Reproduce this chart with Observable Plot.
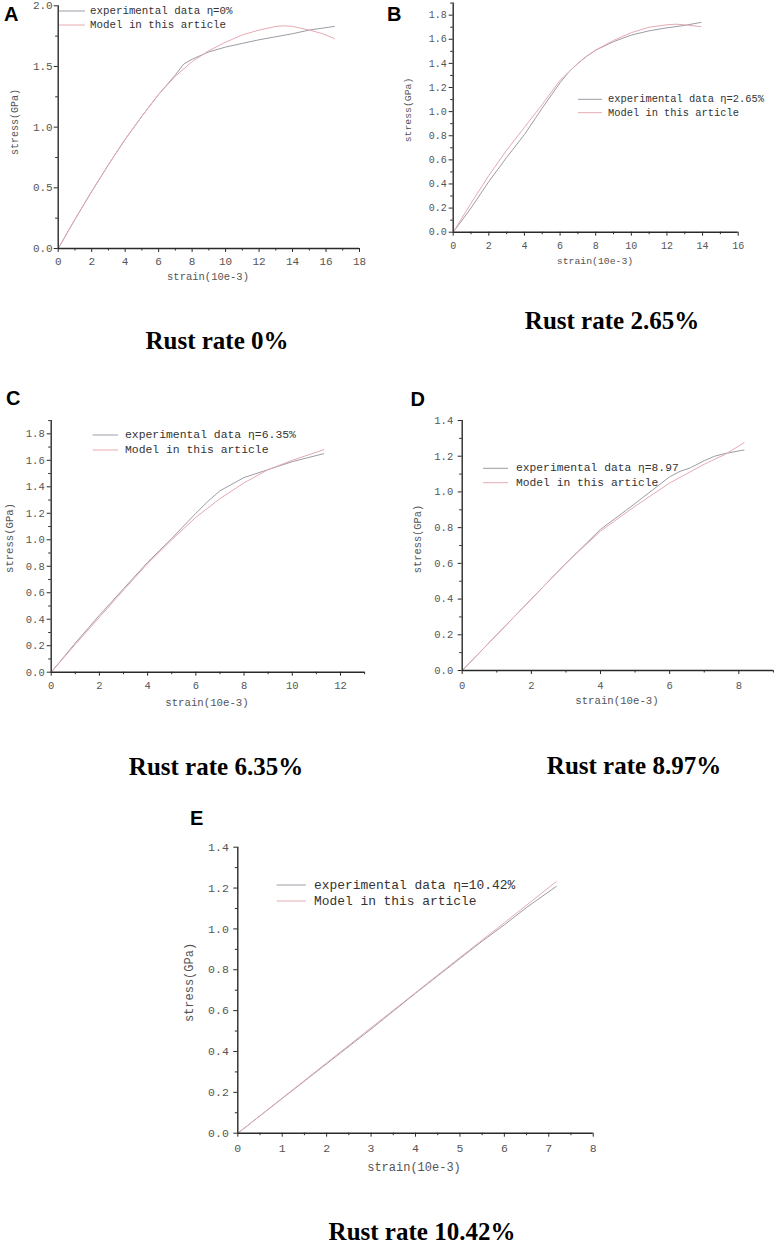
<!DOCTYPE html>
<html><head><meta charset="utf-8">
<script src="https://cdn.jsdelivr.net/npm/d3@7"></script>
<script src="https://cdn.jsdelivr.net/npm/@observablehq/plot@0.6"></script>
<style>
body{margin:0;background:#fff;}
#page{position:relative;width:775px;height:1246px;overflow:hidden;background:#fff;}
.panel{position:absolute;}
#overlay{position:absolute;left:0;top:0;pointer-events:none;}
</style></head><body><div id="page"></div>
<script>
// ---------- DATA ----------
// Panel A (rust rate 0%)
const expA_strain = [0, 1, 2, 3, 4, 5, 6, 7, 7.5, 8, 9, 10, 11, 12, 13, 14, 15, 16.5];
const expA_stress = [0, 0.24, 0.47, 0.69, 0.90, 1.09, 1.27, 1.43, 1.52, 1.56, 1.62, 1.66, 1.69, 1.72, 1.745, 1.77, 1.80, 1.83];
const modA_strain = [0, 1, 2, 3, 4, 5, 6, 7, 8, 9, 10, 11, 12, 13, 13.5, 14, 15, 15.8, 16.5];
const modA_stress = [0, 0.24, 0.47, 0.69, 0.90, 1.09, 1.27, 1.42, 1.54, 1.63, 1.70, 1.76, 1.80, 1.83, 1.835, 1.83, 1.80, 1.77, 1.73];
// Panel B (2.65%)
const expB_strain = [0, 1, 2, 3, 4, 5, 6, 6.5, 7, 7.5, 8, 9, 10, 11, 12, 13, 13.9];
const expB_stress = [0, 0.20, 0.42, 0.62, 0.81, 1.03, 1.24, 1.33, 1.40, 1.46, 1.51, 1.58, 1.635, 1.67, 1.695, 1.715, 1.74];
const modB_strain = [0, 1, 2, 3, 4, 5, 6, 6.5, 7, 7.5, 8, 9, 10, 11, 12, 12.5, 13, 13.9];
const modB_stress = [0, 0.24, 0.47, 0.68, 0.87, 1.06, 1.26, 1.33, 1.40, 1.46, 1.51, 1.59, 1.655, 1.70, 1.72, 1.725, 1.72, 1.705];
// Panel C (6.35%)
const expC_strain = [0, 1, 2, 3, 4, 5, 6, 6.5, 7, 7.5, 8, 9, 10, 11.3];
const expC_stress = [0, 0.22, 0.43, 0.63, 0.83, 1.01, 1.20, 1.29, 1.37, 1.42, 1.47, 1.53, 1.59, 1.65];
const modC_strain = [0, 1, 2, 3, 4, 5, 6, 7, 8, 9, 10, 11.3];
const modC_stress = [0, 0.21, 0.415, 0.62, 0.82, 1.00, 1.17, 1.31, 1.43, 1.53, 1.60, 1.68];
// Panel D (8.97%)
const expD_strain = [0, 1, 2, 3, 4, 5, 5.5, 6, 6.3, 6.6, 7, 7.3, 7.6, 8.15];
const expD_stress = [0, 0.20, 0.40, 0.60, 0.79, 0.935, 1.01, 1.085, 1.115, 1.135, 1.175, 1.20, 1.215, 1.235];
const modD_strain = [0, 1, 2, 3, 4, 5, 6, 7, 7.6, 8.15];
const modD_stress = [0, 0.20, 0.40, 0.60, 0.78, 0.92, 1.05, 1.155, 1.21, 1.275];
// Panel E (10.42%)
const expE_strain = [0, 1, 2, 3, 4, 5, 5.5, 6, 6.5, 7.17];
const expE_stress = [0, 0.17, 0.34, 0.51, 0.685, 0.855, 0.94, 1.02, 1.105, 1.208];
const modE_strain = [0, 1, 2, 3, 4, 5, 6, 7.17];
const modE_stress = [0, 0.172, 0.344, 0.516, 0.688, 0.86, 1.03, 1.232];

// Tick values
const ticksA_x = [0, 2, 4, 6, 8, 10, 12, 14, 16, 18];
const minorA_x = [1, 3, 5, 7, 9, 11, 13, 15, 17];
const ticksA_y = [0, 0.5, 1.0, 1.5, 2.0];
const minorA_y = [0.25, 0.75, 1.25, 1.75];
const ticksB_x = [0, 2, 4, 6, 8, 10, 12, 14, 16];
const minorB_x = [1, 3, 5, 7, 9, 11, 13, 15];
const ticks02_18 = [0, 0.2, 0.4, 0.6, 0.8, 1.0, 1.2, 1.4, 1.6, 1.8];
const minor01_19 = [0.1, 0.3, 0.5, 0.7, 0.9, 1.1, 1.3, 1.5, 1.7, 1.9];
const ticksC_x = [0, 2, 4, 6, 8, 10, 12];
const minorC_x = [1, 3, 5, 7, 9, 11, 13];
const ticksD_x = [0, 2, 4, 6, 8];
const minorD_x = [1, 3, 5, 7, 9];
const ticks02_14 = [0, 0.2, 0.4, 0.6, 0.8, 1.0, 1.2, 1.4];
const minor01_13 = [0.1, 0.3, 0.5, 0.7, 0.9, 1.1, 1.3];
const ticksE_x = [0, 1, 2, 3, 4, 5, 6, 7, 8];
const minorE_x = [0.5, 1.5, 2.5, 3.5, 4.5, 5.5, 6.5, 7.5];

// Texts
const panelLetters = ["A", "B", "C", "D", "E"];
const panelTitles = ["Rust rate 0%", "Rust rate 2.65%", "Rust rate 6.35%", "Rust rate 8.97%", "Rust rate 10.42%"];
const legendExp = ["experimental data η=0%", "experimental data η=2.65%", "experimental data η=6.35%", "experimental data η=8.97", "experimental data η=10.42%"];
const legendModel = "Model in this article";
const yLabel = "stress(GPa)";
const xLabel = "strain(10e-3)";

// ---------- STYLE / LAYOUT ----------
const GRAY = "#9d9ca6";
const PINK = "#e5aab3";
const AXIS = "#2a2a2a";
const TXT = "#555";
const MONO = "'Liberation Mono', 'DejaVu Sans Mono', monospace";

const panels = [
  {exp:[expA_strain, expA_stress], mod:[modA_strain, modA_stress], left:0, top:0, w:390, h:290, ml:57.7, mr:31, mt:5.3, mb:42,
   xd:[0,18], yd:[0,2], xt:ticksA_x, xm:minorA_x, yt:ticksA_y, ym:minorA_y, fs:11, xPad:5, yPad:1.5,
   letter:[4,21], title:[217,340], stress:[15,122,10], strain:[208,277,10.5], leg:[59,85,90,11,25,10.8]},
  {exp:[expB_strain, expB_stress], mod:[modB_strain, modB_stress], left:390, top:0, w:385, h:275, ml:62.7, mr:37.3, mt:2.6, mb:43.3,
   xd:[0,16], yd:[0,1.9], xt:ticksB_x, xm:minorB_x, yt:ticks02_18, ym:minor01_19, fs:10, xPad:5.5, yPad:2.5,
   letter:[387,21], title:[612,320], stress:[408,110,9.8], strain:[595,261,9.8], leg:[578,602,608,99.3,112.7,10.4]},
  {exp:[expC_strain, expC_stress], mod:[modC_strain, modC_stress], left:0, top:380, w:390, h:340, ml:50.7, mr:25.9, mt:40.1, mb:48.3,
   xd:[0,13], yd:[0,1.9], xt:ticksC_x, xm:minorC_x, yt:ticks02_18, ym:minor01_19, fs:10.5, xPad:5.5, yPad:2.5,
   letter:[6,404.5], title:[216,766], stress:[10,538,10.6], strain:[207,703,10.7], leg:[92.7,118,125,435,450,11.4]},
  {exp:[expD_strain, expD_stress], mod:[modD_strain, modD_stress], left:390, top:380, w:385, h:340, ml:71.7, mr:2.1, mt:40, mb:50,
   xd:[0,9], yd:[0,1.4], xt:ticksD_x, xm:minorD_x, yt:ticks02_14, ym:minor01_13, fs:10.5, xPad:7, yPad:5,
   letter:[410.5,405.7], title:[634,765], stress:[418,539,10.4], strain:[617,701,10.7], leg:[483,508,516,468.3,482.7,11.3]},
  {exp:[expE_strain, expE_stress], mod:[modE_strain, modE_stress], left:180, top:800, w:430, h:400, ml:57.3, mr:17.3, mt:46.7, mb:67.3,
   xd:[0,8], yd:[0,1.4], xt:ticksE_x, xm:minorE_x, yt:ticks02_14, ym:minor01_13, fs:11.5, xPad:7, yPad:5,
   letter:[190,824.5], title:[422,1231], stress:[190,982.5,12], strain:[414,1168,12], leg:[276.7,306,314,885,901,12.9]}
];

const page = document.getElementById("page");

panels.forEach((p) => {
  const exp = p.exp[0].map((x, i) => ({strain: x, stress: p.exp[1][i]}));
  const mod = p.mod[0].map((x, i) => ({strain: x, stress: p.mod[1][i]}));
  const chart = Plot.plot({
    width: p.w, height: p.h,
    marginLeft: p.ml, marginRight: p.mr, marginTop: p.mt, marginBottom: p.mb,
    x: {domain: p.xd, nice: false},
    y: {domain: p.yd, nice: false},
    style: {fontFamily: MONO, fontSize: p.fs + "px", color: TXT, background: "transparent", overflow: "visible"},
    marks: [
      Plot.line(exp, {x: "strain", y: "stress", stroke: GRAY, strokeWidth: 1}),
      Plot.line(mod, {x: "strain", y: "stress", stroke: PINK, strokeWidth: 1}),
      Plot.axisX(p.xm, {tickSize: 2.5, stroke: AXIS, fill: "none", label: null}),
      Plot.axisX(p.xt, {tickSize: 4, tickPadding: p.xPad, stroke: AXIS, fill: TXT, label: null, tickFormat: (d) => String(d)}),
      Plot.axisY(p.ym, {tickSize: 2.5, stroke: AXIS, fill: "none", label: null}),
      Plot.axisY(p.yt, {tickSize: 4, tickPadding: p.yPad, stroke: AXIS, fill: TXT, label: null, tickFormat: (d) => d.toFixed(1)}),
      Plot.ruleY([0], {stroke: AXIS, strokeWidth: 1.4}),
      Plot.ruleX([0], {stroke: AXIS, strokeWidth: 1.4})
    ]
  });
  const box = document.createElement("div");
  box.className = "panel";
  box.style.left = p.left + "px";
  box.style.top = p.top + "px";
  box.appendChild(chart);
  page.appendChild(box);
});

// ---------- Annotations overlay ----------
const svg = d3.select(page).append("svg")
  .attr("id", "overlay").attr("width", 775).attr("height", 1246);

panels.forEach((p, i) => {
  svg.append("text").attr("x", p.letter[0]).attr("y", p.letter[1])
    .attr("font-family", "'Liberation Sans', Arial, sans-serif").attr("font-weight", "bold")
    .attr("font-size", 20).attr("fill", "#000").text(panelLetters[i]);
  svg.append("text").attr("x", p.title[0]).attr("y", p.title[1])
    .attr("text-anchor", "middle").attr("dominant-baseline", "central")
    .attr("font-family", "'Liberation Serif', 'Times New Roman', serif").attr("font-weight", "bold")
    .attr("font-size", 25).attr("fill", "#000").text(panelTitles[i]);
  svg.append("text").attr("transform", `translate(${p.stress[0]},${p.stress[1]}) rotate(-90)`)
    .attr("text-anchor", "middle").attr("dominant-baseline", "central")
    .attr("font-family", MONO).attr("font-size", p.stress[2]).attr("fill", TXT).text(yLabel);
  svg.append("text").attr("x", p.strain[0]).attr("y", p.strain[1])
    .attr("text-anchor", "middle").attr("dominant-baseline", "central")
    .attr("font-family", MONO).attr("font-size", p.strain[2]).attr("fill", TXT).text(xLabel);
  const [x1, x2, tx, r1, r2, fs] = p.leg;
  svg.append("line").attr("x1", x1).attr("x2", x2).attr("y1", r1).attr("y2", r1).attr("stroke", GRAY).attr("stroke-width", 1);
  svg.append("line").attr("x1", x1).attr("x2", x2).attr("y1", r2).attr("y2", r2).attr("stroke", PINK).attr("stroke-width", 1);
  svg.append("text").attr("x", tx).attr("y", r1).attr("dominant-baseline", "central")
    .attr("font-family", MONO).attr("font-size", fs).attr("fill", "#333").text(legendExp[i]);
  svg.append("text").attr("x", tx).attr("y", r2).attr("dominant-baseline", "central")
    .attr("font-family", MONO).attr("font-size", fs).attr("fill", "#333").text(legendModel);
});
</script>
</body></html>
